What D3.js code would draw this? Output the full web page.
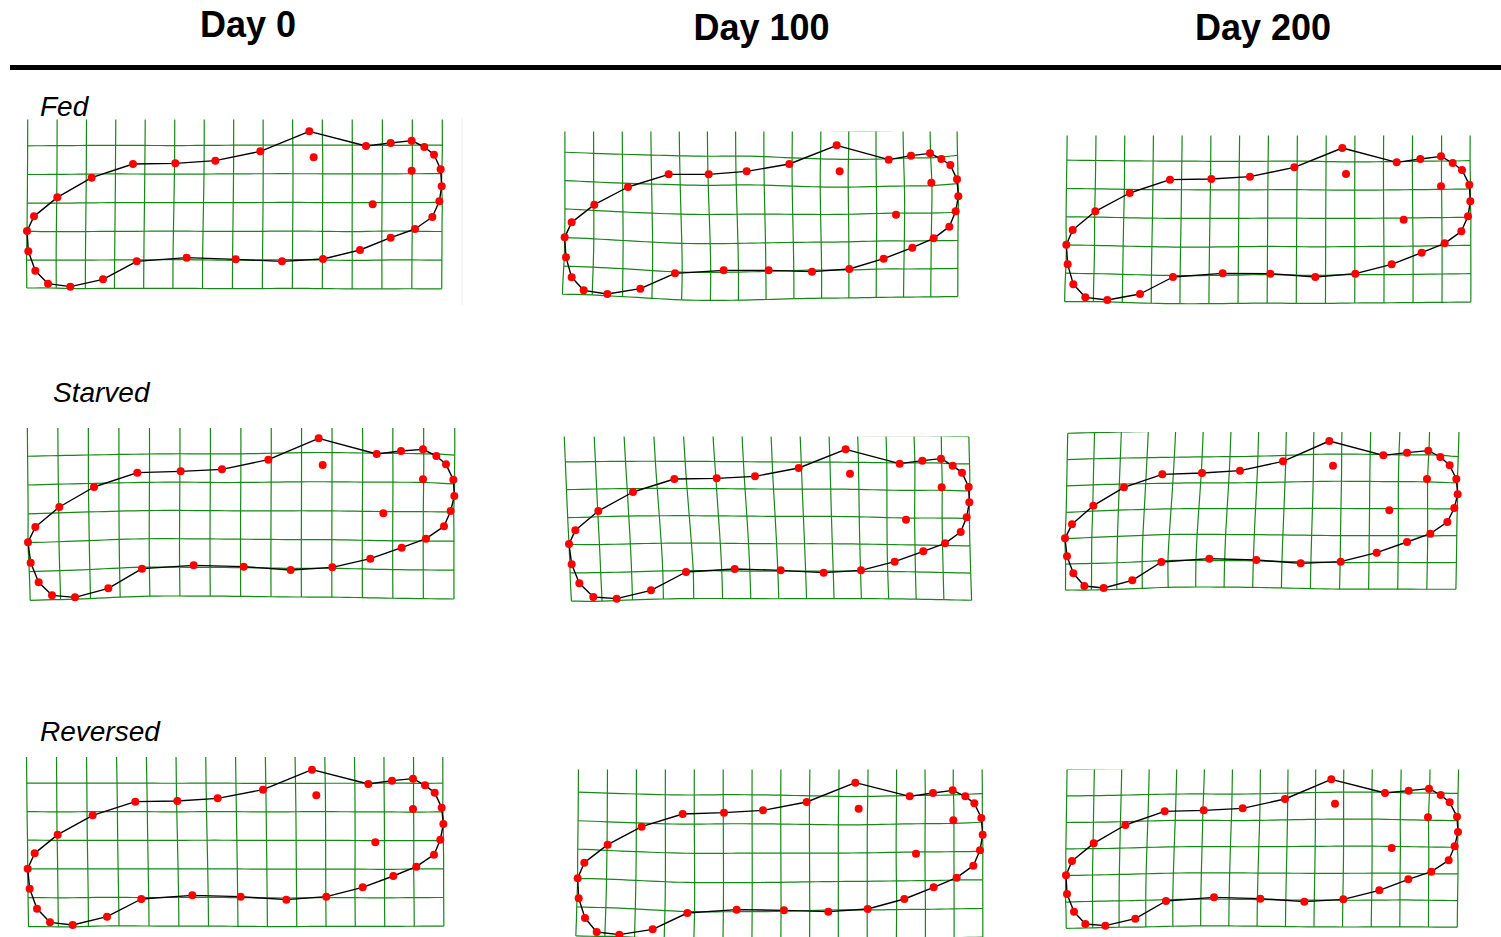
<!DOCTYPE html>
<html>
<head>
<meta charset="utf-8">
<script src="https://cdn.jsdelivr.net/npm/d3@7"></script>
<style>
  html, body { margin: 0; padding: 0; background: #fff; }
  svg { display: block; }
</style>
</head>
<body>
<script>
// ---------------- DATA ----------------
const days = ["Day 0", "Day 100", "Day 200"];
const groups = ["Fed", "Starved", "Reversed"];

// landmark configurations: 31 outline landmarks (in order) followed by 3 internal landmarks
// units: landmark units (3 units = 1 px), relative to each panel frame
const fedDay0 = [[36,363],[57,319],[127,262],[230,203],[354,162],[481,160],[601,152],[736,124],[883,64],[1053,108],[1127,99],[1190,92],[1228,111],[1257,134],[1277,178],[1280,229],[1273,274],[1252,321],[1200,357],[1127,383],[1035,420],[924,447],[801,454],[662,448],[515,443],[365,454],[264,508],[166,530],[99,521],[61,482],[40,424],
  [896,142],[1190,182],[1073,283]];
const fedDay100 = [[44,352],[65,307],[133,254],[234,201],[356,163],[476,163],[590,154],[718,132],[860,76],[1016,119],[1083,107],[1140,100],[1174,117],[1201,135],[1221,178],[1225,229],[1217,274],[1198,320],[1151,355],[1087,383],[1001,416],[898,447],[786,455],[656,451],[521,451],[375,460],[271,506],[172,522],[101,511],[65,472],[48,412],
  [869,154],[1144,188],[1038,284]];
const fedDay200 = [[34,359],[53,315],[121,259],[224,204],[345,164],[469,162],[585,155],[718,127],[862,69],[1025,112],[1096,102],[1158,94],[1193,114],[1221,135],[1243,179],[1246,229],[1239,274],[1219,319],[1169,355],[1100,383],[1010,418],[901,446],[781,456],[646,446],[503,445],[354,456],[255,507],[157,525],[91,517],[55,478],[38,418],
  [873,147],[1158,184],[1046,284]];
const starvedDay0 = [[39,367],[61,321],[133,261],[237,201],[367,158],[497,154],[621,148],[760,119],[911,55],[1085,102],[1158,93],[1224,88],[1264,108],[1293,133],[1315,179],[1318,228],[1307,273],[1287,319],[1233,356],[1160,383],[1066,416],[952,442],[827,450],[686,440],[536,436],[381,446],[280,505],[180,532],[111,526],[71,487],[47,428],
  [923,135],[1224,178],[1105,280]];
const starvedDay100 = [[42,357],[61,316],[130,258],[234,201],[358,162],[485,160],[600,154],[731,129],[872,73],[1034,116],[1102,107],[1158,101],[1193,122],[1221,143],[1241,186],[1243,232],[1235,277],[1217,321],[1170,355],[1105,379],[1019,410],[918,436],[806,443],[677,436],[539,432],[393,441],[288,496],[185,521],[115,516],[73,475],[50,418],
  [885,146],[1160,187],[1053,284]];
const starvedDay200 = [[30,340],[51,298],[115,242],[207,187],[322,148],[441,144],[555,137],[684,109],[823,48],[985,91],[1056,83],[1120,77],[1156,96],[1184,121],[1204,162],[1208,208],[1198,249],[1177,291],[1126,326],[1056,351],[965,383],[857,410],[737,415],[604,405],[463,401],[319,411],[232,466],[146,489],[88,483],[55,445],[36,394],
  [834,122],[1116,162],[1003,256]];
const reversedDay0 = [[38,356],[59,310],[128,254],[233,196],[361,155],[487,153],[608,145],[744,119],[891,59],[1060,102],[1131,92],[1194,86],[1230,106],[1259,128],[1280,173],[1285,222],[1276,269],[1257,314],[1204,350],[1135,378],[1043,412],[934,440],[814,449],[677,440],[532,436],[379,447],[276,500],[173,525],[105,517],[66,476],[44,416],
  [904,136],[1194,177],[1081,277]];
const reversedDay100 = [[38,355],[58,308],[128,254],[230,200],[353,162],[477,158],[594,151],[725,126],[871,68],[1034,109],[1104,99],[1163,91],[1201,109],[1228,130],[1249,174],[1253,224],[1245,271],[1225,317],[1175,353],[1106,382],[1018,417],[908,447],[790,455],[657,451],[515,449],[367,459],[263,508],[163,524],[95,516],[60,474],[41,415],
  [881,146],[1165,181],[1053,281]];
const reversedDay200 = [[33,346],[51,303],[116,250],[211,195],[329,154],[446,151],[563,145],[690,117],[829,58],[990,99],[1061,92],[1122,86],[1157,105],[1184,127],[1206,170],[1209,216],[1199,259],[1181,301],[1129,335],[1060,358],[973,391],[865,418],[748,425],[616,416],[477,412],[333,423],[241,476],[151,497],[91,492],[57,455],[36,402],
  [840,131],[1119,172],[1010,264]];

const OUTLINE_COUNT = 31;

// ---------------- LAYOUT ----------------
const W = 1501, H = 937;
const panels = [
  { data: fedDay0,        ox: 15,   oy: 110, clipTop: 119.5 },
  { data: fedDay100,      ox: 550,  oy: 120, clipTop: 131.5 },
  { data: fedDay200,      ox: 1055, oy: 125, clipTop: 135.5 },
  { data: starvedDay0,    ox: 15,   oy: 420, clipTop: 428 },
  { data: starvedDay100,  ox: 555,  oy: 425, clipTop: 436.5 },
  { data: starvedDay200,  ox: 1055, oy: 425, clipTop: 432 },
  { data: reversedDay0,   ox: 15,   oy: 750, clipTop: 757 },
  { data: reversedDay100, ox: 565,  oy: 760, clipTop: 769.5 },
  { data: reversedDay200, ox: 1055, oy: 760, clipTop: 769.5 }
];

const svg = d3.select("body").append("svg").attr("width", W).attr("height", H);

// ---------------- HEADER ----------------
const headerX = d3.scalePoint().domain(days).range([248, 1263]);
svg.selectAll("text.day").data(days).enter().append("text")
  .attr("class", "day")
  .attr("x", d => headerX(d) + (d === "Day 100" ? 6 : 0))
  .attr("y", (d, i) => i === 0 ? 37 : 40)
  .attr("text-anchor", "middle")
  .style("font-family", "'Liberation Sans', Arial, sans-serif")
  .style("font-weight", "bold")
  .style("font-size", "36px")
  .text(d => d);

svg.append("line").attr("x1", 10).attr("x2", W).attr("y1", 67.5).attr("y2", 67.5)
  .attr("stroke", "#000").attr("stroke-width", 5);

const labelPos = [[40, 116], [53, 402], [40, 741]];
svg.selectAll("text.grp").data(groups).enter().append("text")
  .attr("class", "grp")
  .attr("x", (d, i) => labelPos[i][0])
  .attr("y", (d, i) => labelPos[i][1])
  .style("font-family", "'Liberation Sans', Arial, sans-serif")
  .style("font-style", "italic")
  .style("font-size", "28px")
  .text(d => d);

// faint image border in first panel
svg.append("line").attr("x1", 462).attr("x2", 462).attr("y1", 118).attr("y2", 305)
  .attr("stroke", "#eeeeee").attr("stroke-width", 1);

// ---------------- MEAN SHAPE ----------------
function normalize(conf) {
  const cx = d3.mean(conf, d => d[0]), cy = d3.mean(conf, d => d[1]);
  const cs = Math.sqrt(d3.sum(conf, d => (d[0]-cx)**2 + (d[1]-cy)**2));
  return conf.map(d => [(d[0]-cx)/cs, (d[1]-cy)/cs]);
}
const normed = panels.map(p => normalize(p.data));
const meanShape = normed[0].map((_, k) => [
  d3.mean(normed, c => c[k][0]), d3.mean(normed, c => c[k][1])
]);

// ---------------- THIN-PLATE SPLINE ----------------
function U(r2) { return r2 === 0 ? 0 : r2 * Math.log(r2); }
function solve(A, B) {
  const n = A.length, m = B[0].length;
  const M = A.map((row, i) => row.concat(B[i]));
  for (let c = 0; c < n; c++) {
    let piv = c;
    for (let r = c + 1; r < n; r++) if (Math.abs(M[r][c]) > Math.abs(M[piv][c])) piv = r;
    [M[c], M[piv]] = [M[piv], M[c]];
    const pv = M[c][c];
    for (let j = c; j < n + m; j++) M[c][j] /= pv;
    for (let r = 0; r < n; r++) {
      if (r === c) continue;
      const f = M[r][c];
      if (f === 0) continue;
      for (let j = c; j < n + m; j++) M[r][j] -= f * M[c][j];
    }
  }
  return M.map(row => row.slice(n));
}
function tps(src, dst) {
  const n = src.length, N = n + 3;
  const A = [], B = [];
  for (let i = 0; i < N; i++) { A.push(new Array(N).fill(0)); B.push([0, 0]); }
  for (let i = 0; i < n; i++) {
    for (let j = 0; j < n; j++) {
      const dx = src[i][0]-src[j][0], dy = src[i][1]-src[j][1];
      A[i][j] = U(dx*dx + dy*dy);
    }
    A[i][n] = 1; A[i][n+1] = src[i][0]; A[i][n+2] = src[i][1];
    A[n][i] = 1; A[n+1][i] = src[i][0]; A[n+2][i] = src[i][1];
    B[i] = [dst[i][0], dst[i][1]];
  }
  const X = solve(A, B);
  return function (x, y) {
    let ox = X[n][0] + X[n+1][0]*x + X[n+2][0]*y;
    let oy = X[n][1] + X[n+1][1]*x + X[n+2][1]*y;
    for (let i = 0; i < n; i++) {
      const dx = x - src[i][0], dy = y - src[i][1];
      const u = U(dx*dx + dy*dy);
      ox += X[i][0]*u; oy += X[i][1]*u;
    }
    return [ox, oy];
  };
}

// grid in mean-shape space
const mxExt = d3.extent(meanShape, d => d[0]);
const myExt = d3.extent(meanShape, d => d[1]);
const mh = myExt[1] - myExt[0];
const gx = d3.scaleLinear().domain([0, 14]).range([mxExt[0], mxExt[1]]);
const gy = d3.scaleLinear().domain([0, 6]).range([myExt[0] - 0.095*mh, myExt[1] + 0.012*mh]);

const lineGen = d3.line().x(d => d[0]).y(d => d[1]);
const defs = svg.append("defs");

panels.forEach((p, pi) => {
  const xs = d3.scaleLinear().domain([0, 300]).range([p.ox, p.ox + 100]);
  const ys = d3.scaleLinear().domain([0, 300]).range([p.oy, p.oy + 100]);
  const pts = p.data.map(d => [xs(d[0]), ys(d[1])]);
  const warp = tps(meanShape, pts);

  defs.append("clipPath").attr("id", "clip" + pi)
    .append("rect").attr("x", p.ox - 20).attr("y", p.clipTop)
    .attr("width", 520).attr("height", 240);

  const g = svg.append("g");
  const gg = g.append("g").attr("clip-path", `url(#clip${pi})`);

  const lines = [];
  for (let c = 0; c <= 14; c++) {
    const seg = d3.range(0, 6.001, 0.2).map(t => warp(gx(c), gy(t)));
    lines.push(seg);
  }
  for (let r = 0; r <= 6; r++) {
    const seg = d3.range(0, 14.001, 0.25).map(t => warp(gx(t), gy(r)));
    lines.push(seg);
  }
  gg.selectAll("path.grid").data(lines).enter().append("path")
    .attr("class", "grid")
    .attr("d", lineGen)
    .attr("fill", "none")
    .attr("stroke", "#168816")
    .attr("stroke-width", 1.2);

  const outline = pts.slice(0, OUTLINE_COUNT);
  g.append("path")
    .attr("d", lineGen(outline) + "Z")
    .attr("fill", "none")
    .attr("stroke", "#000")
    .attr("stroke-width", 1.4)
    .attr("stroke-linejoin", "round");

  g.selectAll("circle").data(pts).enter().append("circle")
    .attr("cx", d => d[0]).attr("cy", d => d[1])
    .attr("r", 4)
    .attr("fill", "#ff0000");
});
</script>
</body>
</html>
